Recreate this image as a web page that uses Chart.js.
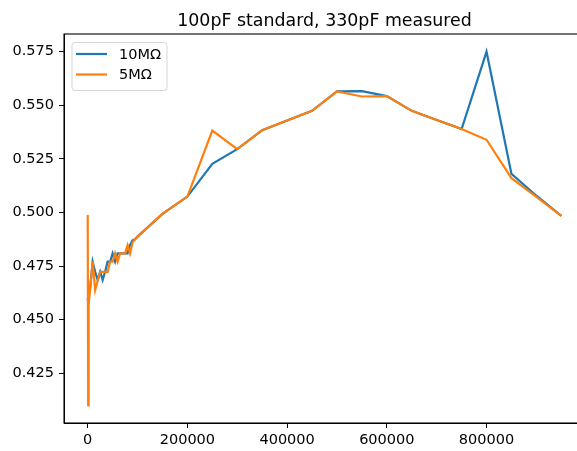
<!DOCTYPE html>
<html>
<head>
<meta charset="utf-8">
<script src="https://cdn.jsdelivr.net/npm/chart.js@4.4.1/dist/chart.umd.min.js"></script>
<style>
  html, body { margin: 0; padding: 0; background: #fff; overflow: hidden; }
  canvas { display: block; }
</style>
</head>
<body>
<canvas id="capChart" width="600" height="451"></canvas>
<script>
// ============================================
// DATOS
// ============================================

const titleText = '100pF standard, 330pF measured';
const seriesLabels = ['10MΩ', '5MΩ'];
const seriesColors = ['#1f77b4', '#ff7f0e'];

const xValues = [
    100, 1000, 2000, 5000, 10000, 15000, 20000, 25000, 30000, 35000,
    40000, 45000, 50000, 55000, 60000, 65000, 70000, 75000, 80000, 85000,
    90000, 95000, 100000, 150000, 200000, 250000, 300000, 350000, 400000, 450000,
    500000, 550000, 600000, 650000, 700000, 750000, 800000, 850000, 900000, 950000
];

const values10M = [
    0.460, 0.458, 0.462, 0.465, 0.4770, 0.4723, 0.4685, 0.4723, 0.4685, 0.4723,
    0.4770, 0.4770, 0.4809, 0.4770, 0.4809, 0.4809, 0.4809, 0.4809, 0.4809, 0.4848,
    0.4870, 0.4875, 0.4887, 0.4993, 0.5074, 0.5227, 0.5295, 0.5384, 0.5429, 0.5474,
    0.5565, 0.5566, 0.5543, 0.5474, 0.5431, 0.5389, 0.5750, 0.5180, 0.5078, 0.4984
];

const values5M = [
    0.4988, 0.4100, 0.4577, 0.4638, 0.4770, 0.4638, 0.4680, 0.4723, 0.4723, 0.4723,
    0.4723, 0.4770, 0.4770, 0.4809, 0.4770, 0.4809, 0.4809, 0.4809, 0.4848, 0.4809,
    0.4860, 0.4875, 0.4887, 0.4993, 0.5074, 0.5382, 0.5295, 0.5384, 0.5429, 0.5474,
    0.5565, 0.5541, 0.5543, 0.5474, 0.5431, 0.5389, 0.5339, 0.5160, 0.5072, 0.4984
];

const xTicks = [0, 200000, 400000, 600000, 800000];
const yTicks = [0.425, 0.450, 0.475, 0.500, 0.525, 0.550, 0.575];

// ============================================
// GRÁFICO
// ============================================

const FONT = '"DejaVu Sans", "Liberation Sans", sans-serif';

function toPoints(ys) {
    return xValues.map((x, i) => ({ x: x, y: ys[i] }));
}

// marco, título y leyenda al estilo matplotlib
const decorPlugin = {
    id: 'decor',
    afterDraw(chart) {
        const { ctx, chartArea: a } = chart;
        ctx.save();

        ctx.strokeStyle = '#000';
        ctx.lineWidth = 1.1;
        ctx.strokeRect(a.left, a.top, a.right - a.left, a.bottom - a.top);

        ctx.fillStyle = '#000';
        ctx.font = '17.4px ' + FONT;
        ctx.textAlign = 'center';
        ctx.textBaseline = 'alphabetic';
        ctx.fillText(titleText, (a.left + a.right) / 2, 26);

        // leyenda
        const bx = 72, by = 42.5, bw = 95, bh = 48;
        ctx.beginPath();
        if (ctx.roundRect) ctx.roundRect(bx, by, bw, bh, 3);
        else ctx.rect(bx, by, bw, bh);
        ctx.fillStyle = 'rgba(255,255,255,0.8)';
        ctx.fill();
        ctx.strokeStyle = 'rgba(204,204,204,0.8)';
        ctx.lineWidth = 1;
        ctx.stroke();

        ctx.font = '14.5px ' + FONT;
        ctx.textAlign = 'left';
        ctx.textBaseline = 'middle';
        chart.data.datasets.forEach((ds, i) => {
            const ly = 54 + i * 20.5;
            ctx.strokeStyle = ds.borderColor;
            ctx.lineWidth = 2.2;
            ctx.beginPath();
            ctx.moveTo(76, ly);
            ctx.lineTo(107, ly);
            ctx.stroke();
            ctx.fillStyle = '#000';
            ctx.fillText(ds.label, 119, ly + 1);
        });

        ctx.restore();
    }
};

const ctx = document.getElementById('capChart').getContext('2d');
new Chart(ctx, {
    type: 'line',
    data: {
        datasets: [
            {
                label: seriesLabels[0],
                data: toPoints(values10M),
                borderColor: seriesColors[0],
                borderWidth: 2.2,
                pointRadius: 0,
                tension: 0,
                fill: false,
                order: 1
            },
            {
                label: seriesLabels[1],
                data: toPoints(values5M),
                borderColor: seriesColors[1],
                borderWidth: 2.2,
                pointRadius: 0,
                tension: 0,
                fill: false,
                order: 0
            }
        ]
    },
    options: {
        responsive: false,
        animation: false,
        devicePixelRatio: 1,
        layout: { padding: { top: 34, right: 15, left: 0, bottom: 0 } },
        plugins: {
            legend: { display: false },
            title: { display: false },
            tooltip: { enabled: false }
        },
        scales: {
            x: {
                type: 'linear',
                min: -47500,
                max: 997500,
                afterBuildTicks: (scale) => { scale.ticks = xTicks.map(v => ({ value: v })); },
                afterFit: (scale) => { scale.height = 28; },
                grid: { display: true, drawOnChartArea: false, drawTicks: true, tickLength: 5, color: '#000' },
                border: { display: true, color: '#000', width: 1 },
                ticks: {
                    padding: 4,
                    color: '#000',
                    maxRotation: 0,
                    font: { family: FONT, size: 14.5 },
                    callback: (v) => String(v)
                }
            },
            y: {
                type: 'linear',
                min: 0.40175,
                max: 0.58325,
                afterBuildTicks: (scale) => { scale.ticks = yTicks.map(v => ({ value: v })); },
                afterFit: (scale) => { scale.width = 64; },
                grid: { display: true, drawOnChartArea: false, drawTicks: true, tickLength: 5, color: '#000' },
                border: { display: true, color: '#000', width: 1 },
                ticks: {
                    padding: 5,
                    color: '#000',
                    font: { family: FONT, size: 14.5 },
                    callback: (v) => v.toFixed(3)
                }
            }
        }
    },
    plugins: [decorPlugin]
});
</script>
</body>
</html>
